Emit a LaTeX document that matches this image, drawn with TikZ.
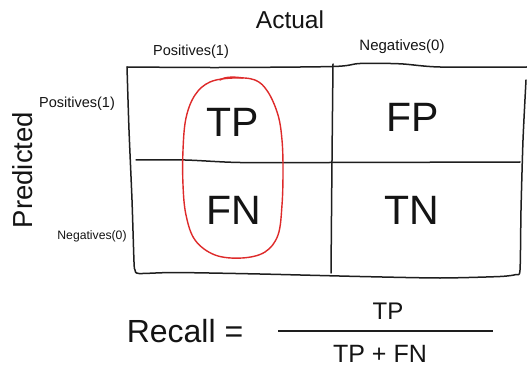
\documentclass[tikz,border=0pt]{standalone}
\usepackage{fontspec}
\setmainfont{Liberation Sans}
\definecolor{inkline}{RGB}{30,30,30}
\definecolor{redloop}{RGB}{222,42,42}
\begin{document}
\begin{tikzpicture}[x=1pt,y=-1pt,
  sketch/.style={line width=1.5pt, draw=inkline, line cap=round, line join=round},
  redring/.style={line width=1.4pt, draw=redloop, line cap=round, line join=round},
  lbl/.style={inner sep=0pt, text=black!92},
  cell/.style={lbl, font=\fontsize{41}{41}\selectfont},
  axis/.style={lbl, font=\fontsize{24.5}{24.5}\selectfont},
  cls/.style={lbl, font=\fontsize{14.5}{14.5}\selectfont},
  formula/.style={lbl, font=\fontsize{25}{25}\selectfont}]
\useasboundingbox (0,0) rectangle (527,366);
\fill[white] (0,0) rectangle (527,366);

% grid (hand-drawn)
\draw[sketch] plot[smooth, tension=0.5] coordinates {(127,67) (220,67.5) (333,66.5) (360,63.5) (400,63.8) (440,67) (527,67)};
\draw[sketch] plot[smooth, tension=0.4] coordinates {(127,67) (129,130) (132,200) (134,262) (135,270) (139,273.5) (175,272.5) (260,274) (360,276.5) (440,278) (500,276.5) (516,274.5) (520,270) (521,210) (523,140) (526,80)};
\draw[sketch] plot[smooth, tension=0.5] coordinates {(333,64) (332,160) (331,273)};
\draw[sketch] plot[smooth, tension=0.5] coordinates {(136,160) (185,160) (240,162.5) (330,162.5) (520,162)};

% red loop round the positives column
\draw[redring] plot[smooth cycle, tension=0.6] coordinates {(233,78) (255,80) (268,92) (278,115) (282,140) (283,170) (282,205) (278,235) (265,252) (242,258) (215,255) (195,240) (186,215) (183,185) (183,150) (186,118) (195,95) (210,82)};
\draw[redring] (220,80) .. controls (226,76) and (236,77) .. (243,78);

% labels
\node[axis] (actual) at (290,20) {Actual};
\node[cls] (apos) at (191,52) {Positives(1)};
\node[cls, font=\fontsize{15}{15}\selectfont] (aneg) at (402,47) {Negatives(0)};
\node[lbl, font=\fontsize{27.5}{27.5}\selectfont, rotate=90] (pred) at (23,170) {Predicted};
\node[cls] (ppos) at (77,104) {Positives(1)};
\node[cls, font=\fontsize{12.2}{12.2}\selectfont] (pneg) at (92,236) {Negatives(0)};

% cells
\node[cell] (tp) at (233,122) {TP};
\node[cell] (fp) at (413,117) {FP};
\node[cell] (fn) at (234,210) {FN};
\node[cell] (tn) at (412,210) {TN};

% recall formula
\node[lbl, font=\fontsize{32}{32}\selectfont] (recall) at (185,331) {Recall =};
\coordinate (barl) at (278,331);
\coordinate (barr) at (493,331);
\draw[line width=1.3pt, draw=inkline] (barl) -- (barr);
\node[formula, font=\fontsize{24}{24}\selectfont] (num) at (388,311) {TP};
\node[formula] (den) at (380,353.5) {TP + FN};
\end{tikzpicture}
\end{document}
